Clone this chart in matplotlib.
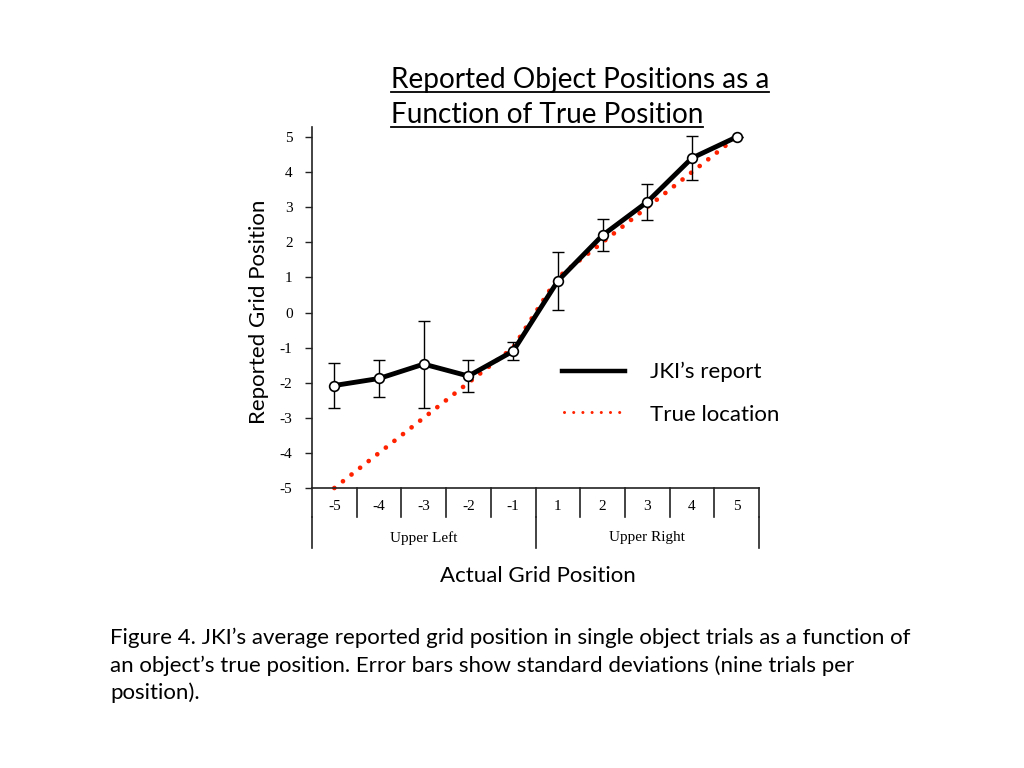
import matplotlib
matplotlib.use("Agg")
import matplotlib.pyplot as plt
from matplotlib.lines import Line2D
import numpy as np

# ---- data ----
positions = ["-5", "-4", "-3", "-2", "-1", "1", "2", "3", "4", "5"]
true_location = [-5, -4, -3, -2, -1, 1, 2, 3, 4, 5]
reported_mean = [-2.08, -1.88, -1.47, -1.81, -1.10, 0.90, 2.20, 3.15, 4.40, 5.00]
reported_sd = [0.65, 0.53, 1.24, 0.45, 0.26, 0.83, 0.46, 0.52, 0.63, 0.0]
groups = ["Upper Left", "Upper Right"]

SANS = ["Lato", "DejaVu Sans"]
SERIF = ["Liberation Serif", "DejaVu Serif"]

W, H = 1024, 768
fig = plt.figure(figsize=(W / 100, H / 100), dpi=100)

def fx(px):
    return px / W

def fy(py):
    return 1 - py / H

ax = fig.add_axes([fx(312), fy(488), fx(759) - fx(312), fy(127) - fy(488)])
n = len(positions)
xs = np.arange(n) + 0.5
ax.set_xlim(0, n)
ax.set_ylim(-5, 5.285)

axis_col = "#222222"
for s in ["top", "right"]:
    ax.spines[s].set_visible(False)
for s in ["left", "bottom"]:
    ax.spines[s].set_color(axis_col)
    ax.spines[s].set_linewidth(1.2)

ax.set_yticks(range(-5, 6))
ax.set_yticklabels([str(v) for v in range(-5, 6)], fontfamily=SERIF, fontsize=11)
ax.tick_params(axis="y", direction="out", length=5, width=1, color=axis_col, pad=9)
ax.set_xticks([])

# true location (red dotted)
ax.plot(xs, true_location, linestyle=(0, (0.01, 2.3)), dash_capstyle="round",
        color="#ff2200", lw=3.4, zorder=2, clip_on=False)
# reported (black with error bars)
ax.errorbar(xs, reported_mean, yerr=reported_sd, fmt="none", ecolor="black",
            elinewidth=1.0, capsize=4, capthick=1.0, zorder=3)
ax.plot(xs, reported_mean, color="black", lw=3.5, zorder=4,
        marker="o", markersize=7, markerfacecolor="white",
        markeredgecolor="black", markeredgewidth=1.2, clip_on=False)

# category table below x-axis
bt = ax.get_xaxis_transform()
row1 = -29 / 361
row2 = -60 / 361
for i in range(n + 1):
    ax.plot([i, i], [0, row1], transform=bt, color=axis_col, lw=1.2, clip_on=False)
for i in [0, n // 2, n]:
    ax.plot([i, i], [row1, row2], transform=bt, color=axis_col, lw=1.2, clip_on=False)
for x, lab in zip(xs, positions):
    ax.text(x, -19 / 361, lab, transform=bt, ha="center", va="center",
            fontfamily=SERIF, fontsize=11)
for gi, g in enumerate(groups):
    ax.text(n / 4 + gi * n / 2, -50 / 361, g, transform=bt, ha="center", va="center",
            fontfamily=SERIF, fontsize=11)

# axis labels
fig.text(fx(259), fy(312), "Reported Grid Position", rotation=90, ha="center",
         va="center", fontfamily=SANS, fontsize=16)
fig.text(fx(538), fy(576), "Actual Grid Position", ha="center", va="center",
         fontfamily=SANS, fontsize=16)

# legend (manual)
fig.add_artist(Line2D([fx(562), fx(625)], [fy(371), fy(371)], color="black", lw=3.2))
fig.add_artist(Line2D([fx(564), fx(625)], [fy(412), fy(412)], color="#ff2200", lw=2.2,
                      linestyle=(0, (0.01, 3.0)), dash_capstyle="round"))
fig.text(fx(650), fy(372), "JKI\u2019s report", ha="left", va="center",
         fontfamily=SANS, fontsize=16)
fig.text(fx(650), fy(415), "True location", ha="left", va="center",
         fontfamily=SANS, fontsize=16)

# title (underlined)
title_lines = ["Reported Object Positions as a", "Function of True Position"]
title_base = [88, 123]
ttexts = []
for line, by in zip(title_lines, title_base):
    t = fig.text(fx(391), fy(by), line, ha="left", va="baseline",
                 fontfamily=SANS, fontsize=20.2)
    ttexts.append((t, by))

# caption
caption = ("Figure 4. JKI\u2019s average reported grid position in single object trials as a function of\n"
           "an object\u2019s true position. Error bars show standard deviations (nine trials per\n"
           "position).")
fig.text(fx(110), fy(628), caption, ha="left", va="top", fontfamily=SANS,
         fontsize=16, linespacing=1.4)

fig.canvas.draw()
r = fig.canvas.get_renderer()
for t, by in ttexts:
    bb = t.get_window_extent(r)
    fig.add_artist(Line2D([bb.x0 / W, bb.x1 / W], [fy(by + 4), fy(by + 4)],
                          color="black", lw=1.3))

fig.savefig("out.png", dpi=100)
